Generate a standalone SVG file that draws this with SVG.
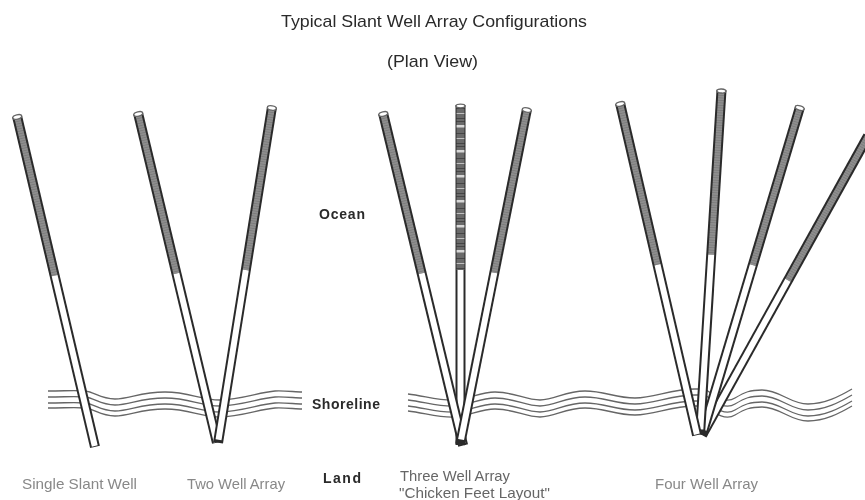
<svg xmlns="http://www.w3.org/2000/svg" width="865" height="500" viewBox="0 0 865 500">
<style>
text{font-family:"Liberation Sans",Arial,sans-serif;fill:#333}
.t{font-size:17px;fill:#2a2a2a}
.cap{font-size:15px;fill:#888}
.cap2{font-size:15px;fill:#666}
.b{font-weight:bold;fill:#2a2a2a;font-size:14px}
.w{fill:none;stroke:#666;stroke-width:1.3}
.o{fill:#2a2a2a}
.i{fill:#fff}
.g{fill:url(#rib)}
.c{fill:url(#fleck)}
.e{fill:#fff;stroke:#666;stroke-width:1.3}
</style>
<defs>
<filter id="s" x="-5%" y="-5%" width="110%" height="110%"><feGaussianBlur stdDeviation="0.6"/></filter>
<filter id="s2" x="-5%" y="-5%" width="110%" height="110%"><feGaussianBlur stdDeviation="0.55"/></filter>
<pattern id="rib" width="8" height="2.500" patternUnits="userSpaceOnUse"><rect width="8" height="2.500" fill="#8e8e8e"/><rect width="8" height="0.800" fill="#7a7a7a"/></pattern>
<pattern id="fleck" width="8" height="25" patternUnits="userSpaceOnUse"><rect width="8" height="25" fill="#6a6a6a"/><rect y="3" width="8" height="1" fill="#444"/><rect y="8" width="8" height="1" fill="#c0c0c0"/><rect y="13" width="8" height="1" fill="#444"/><rect y="16" width="8" height="1" fill="#444"/><rect y="20" width="8" height="2.500" fill="#d8d8d8"/></pattern>
<path id="wa" d="M48 391C65 391 75 390 85 391C95 392 100 399 115 399C130 399 140 392 165 392C190 392 200 400 220 400C240 400 260 392 275 391C285 390.500 295 392 302 392"/>
<path id="wb" d="M408 394C425 396 440 401 455 400C470 399 480 392 495 392C515 392 525 400 540 400C555 400 565 391 585 391C605 391 615 398 635 398C655 398 670 389 695 389L705 389C715 396 725 404 735 398C745 392 750 390 762 390C780 390 790 404 808 404C825 404 840 396 852 389"/>
</defs>
<rect width="865" height="500" fill="#fff"/>
<g id="connectors" filter="url(#s)">
<g id="shore-1" class="w"><use href="#wa"/><use href="#wa" y="6"/><use href="#wa" y="12"/><use href="#wa" y="17"/></g>
<g id="shore-2" class="w"><use href="#wb"/><use href="#wb" y="6"/><use href="#wb" y="12"/><use href="#wb" y="17"/></g>
</g>
<g filter="url(#s2)">
<g id="well-single" transform="translate(17 116) rotate(-13.26)"><rect class="o" x="-5" width="10" height="340"/><rect class="g" x="-3" y="1" width="6" height="163"/><rect class="i" x="-3" y="164" width="6" height="175"/><ellipse class="e" cy="1" rx="4.500" ry="2.200"/></g>
<g id="well-two-a" transform="translate(138 113) rotate(-13.46)"><rect class="o" x="-5" width="10" height="339"/><rect class="g" x="-3" y="1" width="6" height="164"/><rect class="i" x="-3" y="165" width="6" height="173"/><ellipse class="e" cy="1" rx="4.500" ry="2.200"/></g>
<g id="well-two-b" transform="translate(272 107) rotate(9.13)"><rect class="o" x="-5" width="10" height="340"/><rect class="g" x="-3" y="1" width="6" height="164"/><rect class="i" x="-3" y="165" width="6" height="172"/><ellipse class="e" cy="1" rx="4.500" ry="2.200"/></g>
<g id="well-three-b" transform="translate(460.500 105)"><rect class="o" x="-5" width="10" height="340"/><rect class="c" x="-4" y="1" width="8" height="164"/><rect class="i" x="-3" y="165" width="6" height="172"/><ellipse class="e" cy="1" rx="4.500" ry="1.800"/></g>
<g id="well-three-a" transform="translate(383 113) rotate(-13.55)"><rect class="o" x="-5" width="10" height="342"/><rect class="g" x="-3" y="1" width="6" height="164"/><rect class="i" x="-3" y="165" width="6" height="175"/><ellipse class="e" cy="1" rx="4.500" ry="2.200"/></g>
<g id="well-three-c" transform="translate(527 109) rotate(11.28)"><rect class="o" x="-5" width="10" height="342"/><rect class="g" x="-3" y="1" width="6" height="166"/><rect class="i" x="-3" y="167" width="6" height="170"/><ellipse class="e" cy="1" rx="4.500" ry="2.200"/></g>
<g id="well-four-d" transform="translate(868 136) rotate(29.02)"><rect class="o" x="-5" width="10" height="342"/><rect class="g" x="-3" y="1" width="6" height="164"/><rect class="i" x="-3" y="165" width="6" height="172"/></g>
<g id="well-four-c" transform="translate(800 107) rotate(16.63)"><rect class="o" x="-5" width="10" height="342"/><rect class="g" x="-3" y="1" width="6" height="164"/><rect class="i" x="-3" y="165" width="6" height="172"/><ellipse class="e" cy="1" rx="4.500" ry="2.200"/></g>
<g id="well-four-b" transform="translate(721.500 90) rotate(3.57)"><rect class="o" x="-5" width="10" height="345"/><rect class="g" x="-3" y="1" width="6" height="164"/><rect class="i" x="-3" y="165" width="6" height="175"/><ellipse class="e" cy="1" rx="4.500" ry="2"/></g>
<g id="well-four-a" transform="translate(620 103) rotate(-13.06)"><rect class="o" x="-5" width="10" height="341"/><rect class="g" x="-3" y="1" width="6" height="165"/><rect class="i" x="-3" y="166" width="6" height="174"/><ellipse class="e" cy="1" rx="4.500" ry="2.200"/></g>
</g>
<g id="labels" filter="url(#s)">
<text class="t" x="281" y="27" textLength="306" lengthAdjust="spacingAndGlyphs">Typical Slant Well Array Configurations</text>
<text class="t" x="387" y="67" textLength="91" lengthAdjust="spacingAndGlyphs">(Plan View)</text>
<text class="b" x="319" y="219" textLength="46">Ocean</text>
<text class="b" x="312" y="409" textLength="68">Shoreline</text>
<text class="b" x="323" y="483" textLength="38">Land</text>
<text class="cap" x="22" y="489" textLength="115" lengthAdjust="spacingAndGlyphs">Single Slant Well</text>
<text class="cap" x="187" y="489" textLength="98" lengthAdjust="spacingAndGlyphs">Two Well Array</text>
<text class="cap2" x="400" y="481" textLength="110" lengthAdjust="spacingAndGlyphs">Three Well Array</text>
<text class="cap2" x="399" y="498" textLength="151" lengthAdjust="spacingAndGlyphs">"Chicken Feet Layout"</text>
<text class="cap" x="655" y="489" textLength="103" lengthAdjust="spacingAndGlyphs">Four Well Array</text>
</g>
</svg>
